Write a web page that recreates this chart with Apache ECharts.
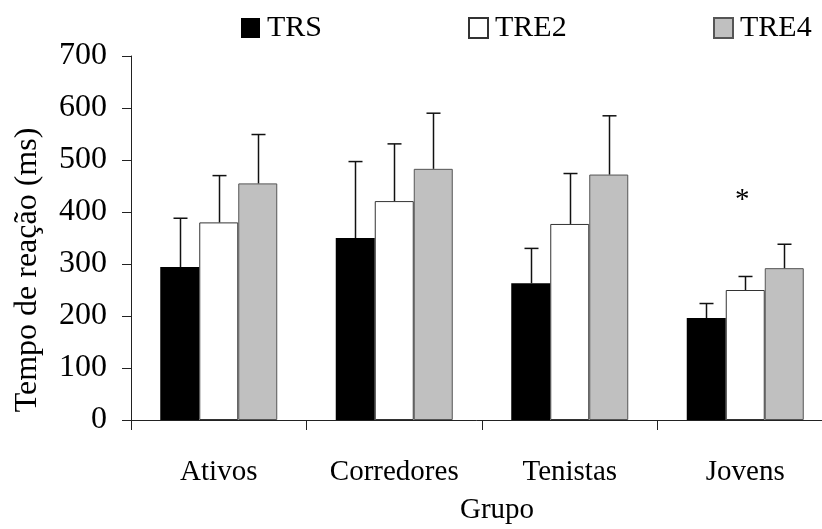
<!DOCTYPE html>
<html>
<head>
<meta charset="utf-8">
<script src="https://cdn.jsdelivr.net/npm/echarts@6/dist/echarts.min.js"></script>
<style>html,body{margin:0;padding:0;background:#fff;}#chart{width:822px;height:529px;}</style>
</head>
<body>
<div id="chart"></div>
<script>
const categories = ['Ativos', 'Corredores', 'Tenistas', 'Jovens'];
const seriesNames = ['TRS', 'TRE2', 'TRE4'];
const trsMean = [294, 350, 263, 196];
const tre2Mean = [380, 421, 377, 250];
const tre4Mean = [455, 483, 472, 292];
const trsSD = [94, 147, 67, 28];
const tre2SD = [90, 110, 97, 26];
const tre4SD = [94, 107, 113, 46];
const yTicks = [0, 100, 200, 300, 400, 500, 600, 700];
const asteriskCategory = 'Jovens';
const asteriskSeries = 'TRE2';
const asteriskValue = 422;

const FONT = '"Liberation Serif", "Times New Roman", serif';
const BAR_W = 39;
const means = [trsMean, tre2Mean, tre4Mean];
const sds = [trsSD, tre2SD, tre4SD];
const errData = [];
means.forEach((m, s) => m.forEach((v, c) => errData.push([c, s, v, v + sds[s][c]])));

const styles = [
  { color: '#000000', borderColor: '#000000', borderWidth: 0 },
  { color: '#ffffff', borderColor: '#333333', borderWidth: 1 },
  { color: '#c0c0c0', borderColor: '#555555', borderWidth: 1 }
];

const chart = echarts.init(document.getElementById('chart'), null, { renderer: 'canvas' });
const legendLefts = [241, 468, 713];
const option = {
  animation: false,
  backgroundColor: '#ffffff',
  textStyle: { fontFamily: FONT, color: '#000' },
  legend: seriesNames.map((n, i) => ({
    data: [n], left: legendLefts[i], top: 13, padding: 0,
    icon: 'rect', itemWidth: 19, itemHeight: 20, itemGap: 0,
    textStyle: { fontFamily: FONT, fontSize: 30, color: '#000', padding: [0, 0, 0, 2] },
    selectedMode: false
  })),
  grid: { left: 131, top: 56, bottom: 109, right: -11, containLabel: false, outerBoundsMode: 'none' },
  xAxis: {
    type: 'category', data: categories,
    name: 'Grupo', nameLocation: 'middle', nameGap: 76,
    nameTextStyle: { fontFamily: FONT, fontSize: 29, color: '#000', padding: [0, 0, 0, 30] },
    axisLine: { lineStyle: { color: '#222', width: 1 } },
    axisTick: { show: true, length: 10, lineStyle: { color: '#222' } },
    axisLabel: { fontFamily: FONT, fontSize: 29, color: '#000', margin: 38 }
  },
  yAxis: {
    type: 'value', min: yTicks[0], max: yTicks[yTicks.length - 1], interval: 100,
    name: 'Tempo de reação (ms)', nameLocation: 'middle', nameGap: 87, nameRotate: 90,
    nameTextStyle: { fontFamily: FONT, fontSize: 32, color: '#000', padding: [0, 64, 0, 0] },
    axisLine: { show: true, lineStyle: { color: '#222', width: 1 } },
    axisTick: { show: true, length: 9, lineStyle: { color: '#222' } },
    splitLine: { show: false },
    axisLabel: { fontFamily: FONT, fontSize: 32, color: '#000', margin: 24 }
  },
  series: seriesNames.map((n, i) => ({
    name: n, type: 'bar', data: means[i], barWidth: BAR_W, barGap: '0%',
    itemStyle: styles[i], z: 2
  })).concat([{
    type: 'custom', name: 'err', z: 3, silent: true,
    data: errData,
    renderItem: function (params, api) {
      const c = api.value(0), s = api.value(1);
      const base = api.coord([c, api.value(2)]);
      const top = api.coord([c, api.value(3)]);
      const x = Math.round(base[0] + (s - 1) * BAR_W) + 0.5;
      const st = { stroke: '#111', lineWidth: 1.5 };
      return { type: 'group', children: [
        { type: 'line', shape: { x1: x, y1: base[1], x2: x, y2: top[1] }, style: st },
        { type: 'line', shape: { x1: x - 7, y1: top[1], x2: x + 7, y2: top[1] }, style: st }
      ] };
    }
  }, {
    type: 'custom', name: 'asterisk', z: 4, silent: true,
    data: [[categories.indexOf(asteriskCategory), seriesNames.indexOf(asteriskSeries), asteriskValue]],
    renderItem: function (params, api) {
      const p = api.coord([api.value(0), api.value(2)]);
      const x = p[0] + (api.value(1) - 1) * BAR_W - 3;
      return { type: 'text', x: x, y: p[1], style: { text: '*', fontFamily: FONT, fontSize: 29, fill: '#000', align: 'center', verticalAlign: 'middle' } };
    }
  }])
};
chart.setOption(option);
</script>
</body>
</html>
